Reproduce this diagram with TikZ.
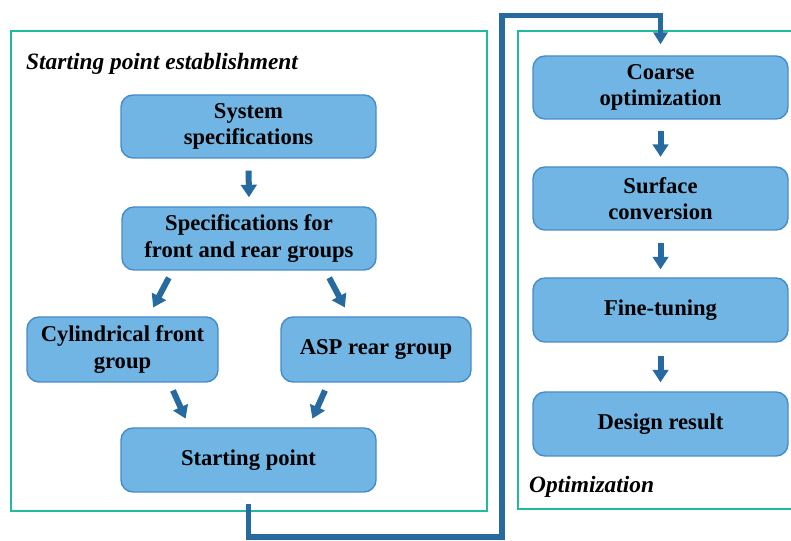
\documentclass[tikz,border=0pt]{standalone}
\usepackage{fontspec}
\setmainfont{Liberation Serif}
\usetikzlibrary{arrows.meta}
\definecolor{boxfill}{RGB}{113,181,228}
\definecolor{boxline}{RGB}{70,140,200}
\definecolor{flowblue}{RGB}{38,106,160}
\definecolor{framegreen}{RGB}{32,186,156}
\tikzset{
  stepbox/.style={draw=boxline, fill=boxfill, line width=1.4pt, rounded corners=12pt,
    align=center, inner sep=2pt,
    font=\fontsize{22.6pt}{26.5pt}\selectfont\bfseries},
  flow/.style={draw=flowblue, line width=6pt,
    -{Triangle[width=15.5pt,length=12.5pt]}},
  link/.style={draw=flowblue, line width=5.5pt, line join=miter,
    -{Triangle[width=14pt,length=12pt]}},
  frame/.style={draw=framegreen, line width=2pt},
  grouptitle/.style={anchor=base west, inner sep=0pt,
    font=\fontsize{23.4pt}{27pt}\selectfont\bfseries\itshape}
}
\begin{document}
\begin{tikzpicture}[x=1pt,y=1pt]
\useasboundingbox (0,0) rectangle (791,540);

% group frames
\draw[frame] (11,509) rectangle (487,29);
\draw[frame] (518,509) rectangle (800,31);
\node[grouptitle] (t1) at (26,470) {Starting point establishment};
\node[grouptitle] (t2) at (529,48) {Optimization};

% starting point establishment
\node[stepbox, minimum width=255pt, minimum height=63pt] (ss) at (248.5,413.5) {System\\specifications};
\node[stepbox, minimum width=254pt, minimum height=63pt] (sf) at (249,301.5) {Specifications for\\front and rear groups};
\node[stepbox, minimum width=191pt, minimum height=65pt] (cf) at (122.5,190.5) {Cylindrical front\\group};
\node[stepbox, minimum width=190pt, minimum height=65pt] (ar) at (376,190.5) {ASP rear group};
\node[stepbox, minimum width=255pt, minimum height=64pt] (sp) at (248.5,80) {Starting point};

% optimization
\node[stepbox, minimum width=255pt, minimum height=63pt] (co) at (660.5,452.5) {Coarse\\optimization};
\node[stepbox, minimum width=255pt, minimum height=63pt] (sc) at (660.5,341.5) {Surface\\conversion};
\node[stepbox, minimum width=255pt, minimum height=64pt] (ft) at (660.5,230) {Fine-tuning};
\node[stepbox, minimum width=255pt, minimum height=64pt] (dr) at (660.5,116) {Design result};

% arrows inside the first group
\draw[flow, shorten <=12pt, shorten >=9pt] (ss.south) -- (sf.north);
\draw[flow, shorten <=8pt, shorten >=10pt] (sf.south -| 172.5,0) -- (cf.north -| 148.5,0);
\draw[flow, shorten <=8pt, shorten >=10pt] (sf.south -| 325.5,0) -- (ar.north -| 349.5,0);
\draw[flow, shorten <=8.5pt, shorten >=9.5pt] (cf.south -| 169.5,0) -- (sp.north -| 189.5,0);
\draw[flow, shorten <=8.5pt, shorten >=9.5pt] (ar.south -| 328.5,0) -- (sp.north -| 308.5,0);

% arrows inside the second group
\draw[flow, shorten <=11pt, shorten >=9.5pt] (co.south) -- (sc.north);
\draw[flow, shorten <=12pt, shorten >=8pt] (sc.south) -- (ft.north);
\draw[flow, shorten <=13pt, shorten >=9pt] (ft.south) -- (dr.north);

% link from the starting point to the optimization
\coordinate (b1) at (502,3);
\coordinate (b2) at (502,524.5);
\draw[link, shorten <=11pt, shorten >=11pt] (sp.south) -- (sp.south |- b1) -- (b1) -- (b2) -- (co.north |- b2) -- (co.north);
\end{tikzpicture}
\end{document}
